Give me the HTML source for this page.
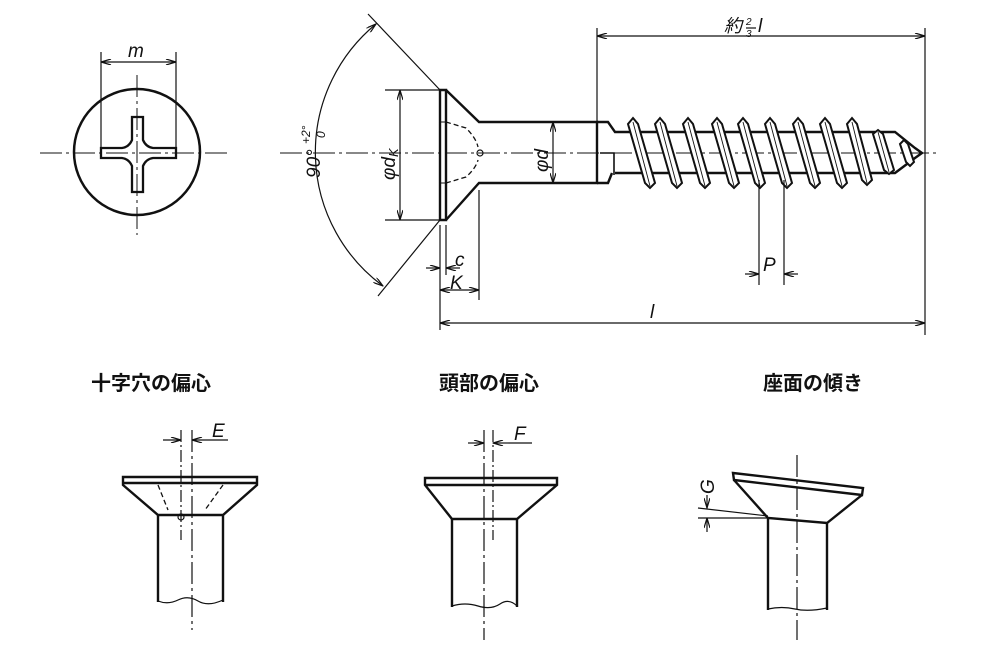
<!DOCTYPE html>
<html><head><meta charset="utf-8"><style>
body{margin:0;background:#fff}
svg{display:block}
text{font-family:"Liberation Sans","Noto Sans CJK JP",sans-serif;fill:#111}
.i{font-style:italic;font-size:19px}
.t{font-size:20px;font-weight:bold}
</style></head><body>
<svg width="988" height="652" viewBox="0 0 988 652" xmlns="http://www.w3.org/2000/svg">
<defs>
<marker id="a" viewBox="0 0 10 6" refX="10" refY="3" markerWidth="11" markerHeight="6" orient="auto-start-reverse" markerUnits="userSpaceOnUse"><path d="M0,0L10,3L0,6" fill="none" stroke="#111" stroke-width="1.2"/></marker>
</defs>
<g stroke="#111" fill="none" stroke-width="1.2">
<!-- left view -->
<circle cx="137" cy="152" r="63" stroke-width="2.5"/>
<path d="M40,153H230M137,75V235" stroke-dasharray="22,4,3,4" stroke-width="1"/>
<path d="M132,117H143V140Q146,147 153,148H176V158H153Q146,159 143,166V192H132V166Q129,159 122,158H101V148H122Q129,147 132,140Z" stroke-width="2.3"/>
<path d="M101,52V158M176,52V158"/>
<path d="M101,62H176" marker-start="url(#a)" marker-end="url(#a)"/>
<!-- main screw -->
<path d="M280,153H940" stroke-dasharray="22,4,3,4" stroke-width="1"/>
<path d="M440,90V220H446V90Z M446,90L479,122H597V183H479L446,220" stroke-width="2.4"/>
<path d="M440,122H446M440,183H446" stroke-width="1"/>
<path d="M446,122L466,128Q476,138 478,147M446,183L466,177Q476,168 478,160" stroke-dasharray="5,3" stroke-width="1.3"/>
<circle cx="480" cy="153" r="3"/>
<path d="M597,122H608L615,132H895L915,148L922,153L915,158L895,173H615M597,183H608L612,173" stroke-width="2.4"/>
<path d="M600,153H614V175" stroke-width="1.6"/>
<g stroke-width="2" fill="#fff">
<path d="M628,124L633,118L638,124L655,183L650,188L645,183Z"/>
<path d="M655,124L660,118L665,124L682,183L677,188L672,183Z"/>
<path d="M683,124L688,118L693,124L710,183L705,188L700,183Z"/>
<path d="M712,124L717,118L722,124L739,183L734,188L729,183Z"/>
<path d="M738,124L743,118L748,124L765,183L760,188L755,183Z"/>
<path d="M765,124L770,118L775,124L792,183L787,188L782,183Z"/>
<path d="M793,124L798,118L803,124L820,183L815,188L810,183Z"/>
<path d="M820,124L825,118L830,124L847,183L842,188L837,183Z"/>
<path d="M847,124L852,118L857,124L872,180L867,185L862,180Z"/>
<path d="M873,134L878,130L883,134L894,170L889,174L884,170Z"/>
<path d="M900,144L904,140L908,144L914,162L910,166L906,162Z"/>
</g>
<g stroke-width="0.9">
<path d="M633,122L650,186M660,122L677,186M688,122L705,186M717,122L734,186M743,122L760,186M770,122L787,186M798,122L815,186M825,122L842,186M852,122L867,183M878,132L889,172"/>
</g>
<!-- dims -->
<path d="M597,28V165M925,28V335M440,225V330M446,225V275M479,190V300M759,180V285M784,180V285M385,90H440M385,220H440"/>
<path d="M597,36H925" marker-start="url(#a)" marker-end="url(#a)"/>
<path d="M440,323H925" marker-start="url(#a)" marker-end="url(#a)"/>
<path d="M440,290H479" marker-start="url(#a)" marker-end="url(#a)"/>
<path d="M426,268H440" marker-end="url(#a)"/><path d="M460,268H446" marker-end="url(#a)"/>
<path d="M745,274H759" marker-end="url(#a)"/><path d="M798,274H784" marker-end="url(#a)"/>
<path d="M400,90V220" marker-start="url(#a)" marker-end="url(#a)"/>
<path d="M553,122V183" marker-start="url(#a)" marker-end="url(#a)"/>
<path d="M440,90L368,14M440,220L378,296"/>
<path d="M376,24A166,166 0 0 0 383,286" marker-start="url(#a)" marker-end="url(#a)"/>
<!-- fig1 -->
<path d="M123,477H257V485L223,515H158L123,485Z M123,483H257" stroke-width="2.4"/>
<path d="M158,515V602M223,515V602" stroke-width="2.4"/>
<path d="M158,601Q168,605 178,600T198,601T223,600"/>
<path d="M158,485L168,510M223,485L205,510" stroke-dasharray="5,3" stroke-width="1.3"/>
<circle cx="181" cy="517" r="3"/>
<path d="M181,430V540" stroke-dasharray="12,3,2,3"/>
<path d="M192,430V630" stroke-dasharray="22,4,3,4"/>
<path d="M163,440H181" marker-end="url(#a)"/><path d="M210,440H192" marker-end="url(#a)"/><path d="M210,440H228"/>
<!-- fig2 -->
<path d="M425,478H557V485L517,519H452L425,485Z M425,485H557" stroke-width="2.4"/>
<path d="M452,519V607M517,519V607" stroke-width="2.4"/>
<path d="M452,606Q465,602 478,606T500,604T517,606"/>
<path d="M484,430V640" stroke-dasharray="22,4,3,4"/>
<path d="M493,430V540" stroke-dasharray="12,3,2,3"/>
<path d="M468,443H484" marker-end="url(#a)"/><path d="M509,443H493" marker-end="url(#a)"/><path d="M509,443H532"/>
<!-- fig3 -->
<path d="M733,473L863,488L862,495L734,480Z" stroke-width="2.4"/>
<path d="M734,480L768,518L827,523L862,495" stroke-width="2.4"/>
<path d="M768,518V610M827,523V610" stroke-width="2.4"/>
<path d="M768,609Q782,606 795,609T827,608"/>
<path d="M797,455V640" stroke-dasharray="22,4,3,4"/>
<path d="M698,518H768M698,508L768,516"/>
<path d="M707,495V508" marker-end="url(#a)"/><path d="M707,532V518" marker-end="url(#a)"/>
<path d="M746,28H756"/>
</g>
<text class="i" x="128" y="57">m</text>
<text class="i" x="455" y="266">c</text>
<text class="i" x="450" y="289">K</text>
<text class="i" x="763" y="271">P</text>
<text class="i" x="650" y="318">l</text>
<text x="724" y="32" font-size="18" font-style="italic">約</text>
<text x="746" y="25" font-size="10" font-style="italic">2</text>
<text x="746" y="37" font-size="10" font-style="italic">3</text>
<text x="758" y="32" font-size="19" font-style="italic">l</text>
<text class="i" transform="translate(395,180) rotate(-90)">φd<tspan font-size="13" dy="3">K</tspan></text>
<text class="i" transform="translate(548,172) rotate(-90)">φd</text>
<text class="i" transform="translate(320,178) rotate(-90)">90°</text>
<text font-size="12" font-style="italic" transform="translate(310,144) rotate(-90)">+2°</text>
<text font-size="12" font-style="italic" transform="translate(325,138) rotate(-90)">0</text>
<text class="i" transform="translate(714,494) rotate(-90)" font-size="16">G</text>
<text class="i" x="212" y="437">E</text>
<text class="i" x="514" y="440">F</text>
<text class="t" x="91" y="390">十字穴の偏心</text>
<text class="t" x="439" y="390">頭部の偏心</text>
<text class="t" x="763" y="390">座面の傾き</text>
</svg>
</body></html>
